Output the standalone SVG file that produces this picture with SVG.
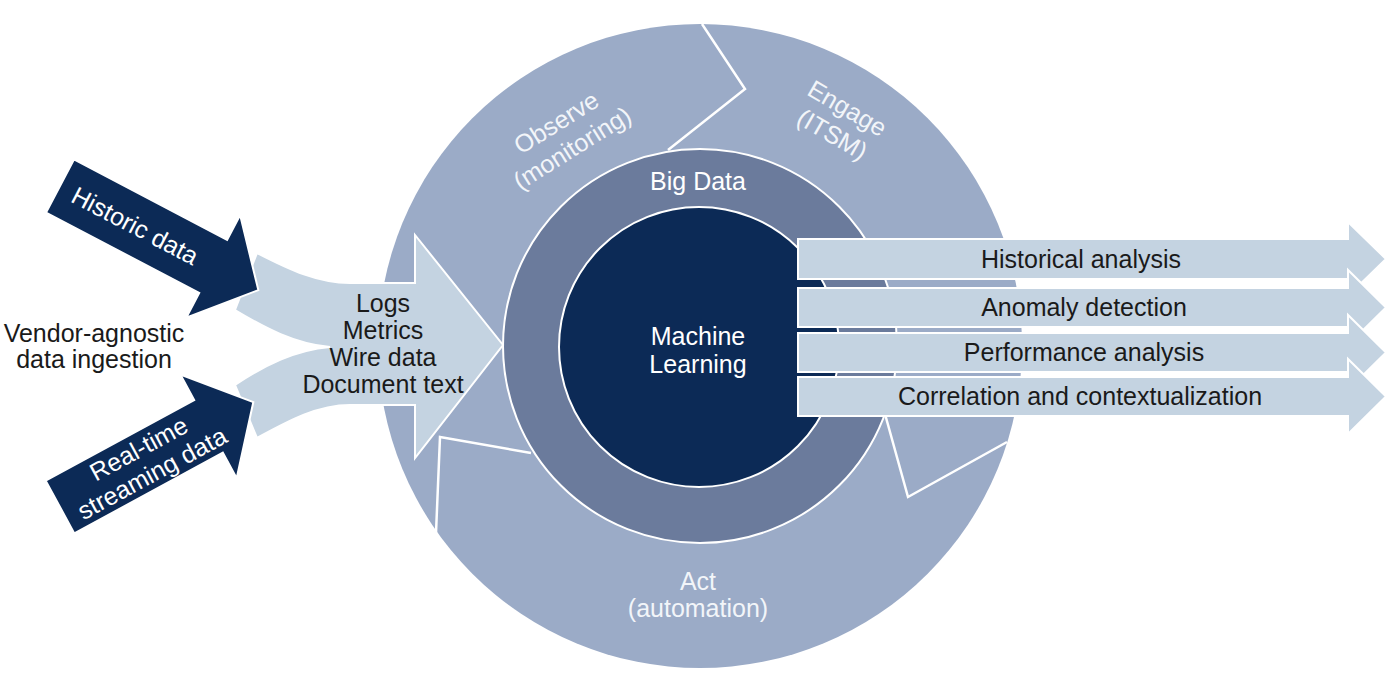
<svg xmlns="http://www.w3.org/2000/svg" width="1400" height="674" viewBox="0 0 1400 674">
<defs>
<style>
.t{font-family:"Liberation Sans",Arial,sans-serif;font-size:25px;text-anchor:middle}
.w{fill:#ffffff}
.wl{fill:#f2f5f9}
.k{fill:#1a1a1a}
.div{fill:none;stroke:#ffffff;stroke-width:2.5;stroke-linejoin:miter}
.dark{fill:#0c2a56;stroke:#ffffff;stroke-width:2}
.light{fill:#c4d3e1;stroke:#ffffff;stroke-width:2}
.rarr{fill:#c4d3e1;stroke:#ffffff;stroke-width:2}
</style>
</defs>
<rect width="1400" height="674" fill="#ffffff"/>
<g id="cycle">
<circle cx="700" cy="346" r="322" fill="#9babc7"/>
<path class="div" d="M702,24 L745,89 L668,150"/>
<path class="div" d="M885,414 L908,497 L1007,442"/>
<path class="div" d="M531,453 L440,437 L436,533"/>
<g transform="translate(564,135) rotate(-32)">
<text class="t wl" x="0" y="-6">Observe</text>
<text class="t wl" x="0" y="24">(monitoring)</text>
</g>
<g transform="translate(840,121) rotate(30)">
<text class="t wl" x="0" y="-6">Engage</text>
<text class="t wl" x="0" y="24">(ITSM)</text>
</g>
<text class="t wl" x="698" y="590">Act</text>
<text class="t wl" x="698" y="617">(automation)</text>
</g>
<g id="bigdata">
<circle cx="700" cy="346" r="197" fill="#6b7b9c" stroke="#ffffff" stroke-width="2"/>
<text class="t w" x="698" y="190">Big Data</text>
</g>
<g id="ml">
<circle cx="699" cy="347" r="140" fill="#0c2a56" stroke="#ffffff" stroke-width="2"/>
<text class="t w" x="698" y="345">Machine</text>
<text class="t w" x="698" y="373">Learning</text>
</g>
<g id="ingest">
<path class="light" d="M257,253 C290,270 318,283 350,283 L415,283 L415,235 L503,345 L415,458 L415,405 L350,405 C318,405 290,420 257,438 L235,385 C265,365 295,350 330,347 C295,344 265,328 235,310 Z"/>
<text class="t k" x="383" y="312">Logs</text>
<text class="t k" x="383" y="339">Metrics</text>
<text class="t k" x="383" y="366">Wire data</text>
<text class="t k" x="383" y="393">Document text</text>
</g>
<g id="historic">
<g transform="translate(60,186) rotate(27.7)">
<polygon class="dark" points="0,-30 173,-30 173,-58 224,0 173,58 173,30 0,30"/>
<text class="t w" x="85" y="9">Historic data</text>
</g>
</g>
<g id="realtime">
<g transform="translate(60,507) rotate(-28.5)">
<polygon class="dark" points="0,-30 169,-30 169,-59 220,0 169,59 169,30 0,30"/>
<text class="t w" x="97" y="-5">Real-time</text>
<text class="t w" x="97" y="23">streaming data</text>
</g>
</g>
<text id="vendor" class="t k" x="94" y="342">Vendor-agnostic<tspan x="94" y="368">data ingestion</tspan></text>
<g id="outputs">
<g id="out1">
<polygon class="rarr" points="798,239 1348,239 1348,222 1386,259 1348,296 1348,279 798,279"/>
<text class="t k" x="1081" y="268">Historical analysis</text>
</g>
<g id="out2">
<polygon class="rarr" points="798,288 1348,288 1348,270 1386,307.5 1348,345 1348,327 798,327"/>
<text class="t k" x="1084" y="316">Anomaly detection</text>
</g>
<g id="out3">
<polygon class="rarr" points="798,333 1348,333 1348,315 1386,352.5 1348,390 1348,372 798,372"/>
<text class="t k" x="1084" y="361">Performance analysis</text>
</g>
<g id="out4">
<polygon class="rarr" points="798,377 1348,377 1348,359 1386,396.5 1348,434 1348,416 798,416"/>
<text class="t k" x="1080" y="405">Correlation and contextualization</text>
</g>
</g>
</svg>
